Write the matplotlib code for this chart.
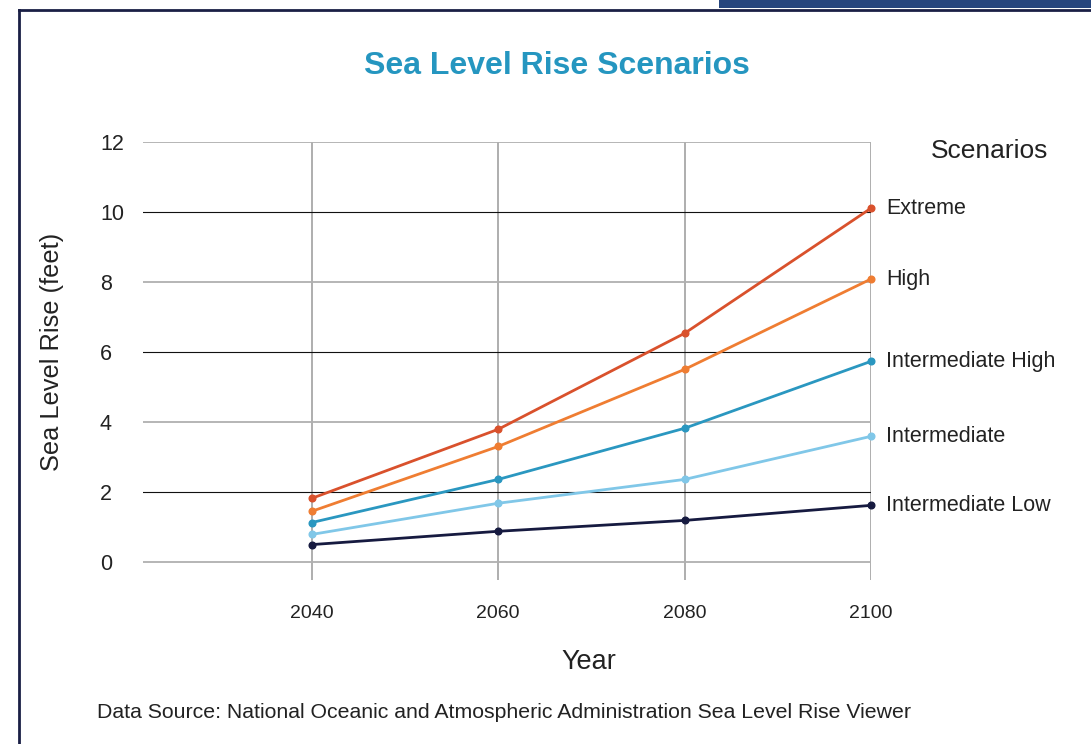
import numpy as np
import matplotlib
matplotlib.use('Agg')
import matplotlib.pyplot as plt
from matplotlib.lines import Line2D
from matplotlib.patches import Rectangle

plt.rcParams['font.family'] = ['Liberation Sans', 'DejaVu Sans']

# data
years = [2040, 2060, 2080, 2100]
scenarios = ['Extreme', 'High', 'Intermediate High', 'Intermediate', 'Intermediate Low']
extreme = [1.83, 3.80, 6.54, 10.11]
high = [1.46, 3.31, 5.51, 8.09]
int_high = [1.14, 2.37, 3.83, 5.74]
intermediate = [0.80, 1.69, 2.37, 3.60]
int_low = [0.51, 0.89, 1.20, 1.63]
series = [extreme, high, int_high, intermediate, int_low]
colors = ['#d9512c', '#ef7d32', '#2a97c0', '#80c7e8', '#161a40']
yticks = [0, 2, 4, 6, 8, 10, 12]

fig = plt.figure(figsize=(10.91, 7.44), dpi=100)
ax = fig.add_axes([143/1091, 1-580/744, (871-143)/1091, (580-142)/744])

for vals, c, name in zip(series, colors, scenarios):
    ax.plot(years, vals, color=c, lw=2.0, marker='o', ms=4.8, zorder=3, clip_on=False)
    ax.annotate(name, (years[-1], vals[-1]), xytext=(11, 0), textcoords='offset points',
                va='center', ha='left', fontsize=15.5, color='#222222')

ax.set_xlim(2021.9, 2100)
ax.set_ylim(-0.5, 12)
ax.set_xticks(years)
ax.set_yticks(yticks)
ax.grid(True, zorder=0)
for val, gl in zip(yticks, ax.get_ygridlines()):
    if val in (2, 6, 10):
        gl.set_color('#111111')
        gl.set_linewidth(0.8)
    else:
        gl.set_color('#b0b0b0')
        gl.set_linewidth(1.3)
for gl in ax.get_xgridlines():
    gl.set_color('#a8a8a8')
    gl.set_linewidth(1.3)
for s in ax.spines.values():
    s.set_visible(False)
ax.tick_params(axis='both', length=0, colors='#222222')
ax.tick_params(axis='x', pad=18, labelsize=14)
ax.tick_params(axis='y', pad=31, labelsize=15.5)
for lab in ax.get_yticklabels():
    lab.set_ha('left')

fig.text(589/1091, 1-662/744, 'Year', ha='center', va='center', fontsize=19.5, color='#222222')
fig.text(52/1091, 1-352/744, 'Sea Level Rise (feet)', ha='center', va='center', rotation=90,
         fontsize=18.3, color='#222222')

fig.text(557/1091, 1-66/744, 'Sea Level Rise Scenarios', ha='center', va='center',
         fontsize=23, fontweight='bold', color='#2596c0')
fig.text(931/1091, 1-151/744, 'Scenarios', ha='left', va='center', fontsize=19, color='#222222')
fig.text(97/1091, 1-712/744, 'Data Source: National Oceanic and Atmospheric Administration Sea Level Rise Viewer',
         ha='left', va='center', fontsize=15.3, color='#222222')

# page frame
fig.add_artist(Rectangle((719/1091, 1-8/744), 1, 8/744, transform=fig.transFigure,
                         color='#26457d', lw=0))
fig.add_artist(Line2D([19/1091, 1], [1-9.5/744, 1-9.5/744], transform=fig.transFigure,
                      color='#1a1f45', lw=2))
fig.add_artist(Line2D([19/1091, 19/1091], [0, 1-9.5/744], transform=fig.transFigure,
                      color='#1a1f45', lw=2))

fig.savefig('out.png', dpi=100)
